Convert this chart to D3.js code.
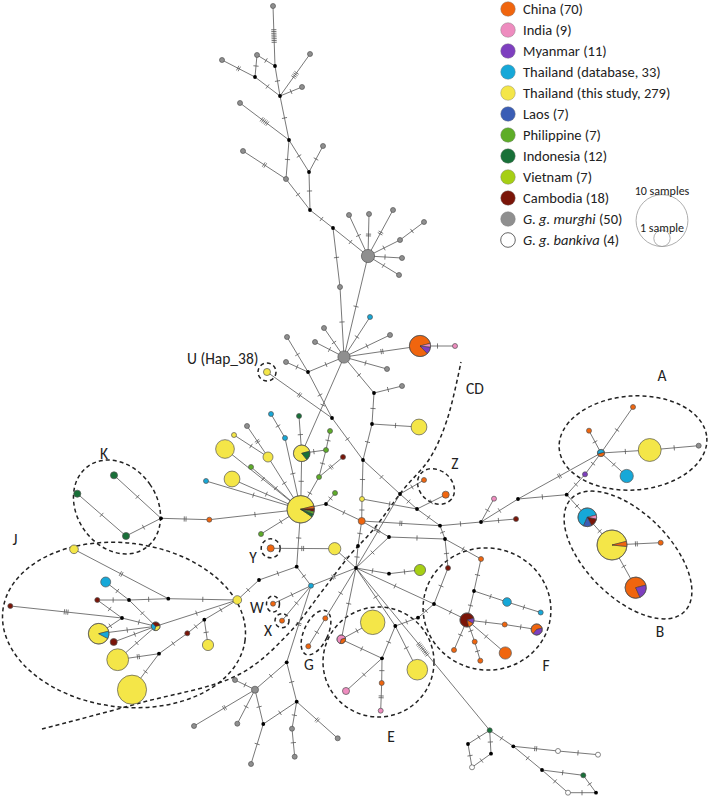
<!DOCTYPE html>
<html><head><meta charset="utf-8">
<script src="https://cdn.jsdelivr.net/npm/d3@7"></script>
<style>body{margin:0;background:#fff}svg{display:block}</style>
</head><body><svg id="c" width="708" height="797"></svg>
<script>
// ---------------- DATA ----------------
const countries = ["CN","IN","MM","TD","TS","LA","PH","ID","VN","KH","GM","GB"];
const countryLabels = ["China (70)","India (9)","Myanmar (11)","Thailand (database, 33)","Thailand (this study, 279)","Laos (7)","Philippine (7)","Indonesia (12)","Vietnam (7)","Cambodia (18)","G. g. murghi (50)","G. g. bankiva (4)"];
const countryColors = ["#F0650E","#EE8CBF","#7E3FBF","#16A8D8","#F4E648","#3A5DB5","#5EAD28","#187038","#A6CF14","#7A1508","#8F8F8F","#FFFFFF"];

// haplotype nodes: [id, layoutX, layoutY, sample counts by country] ({} = median vector)
const nodes = [
["g1",273,6,{GM:1}],["b1",275,66,{}],["g2",257,55,{GM:1}],["b2",255,77,{}],["g5",222,60,{GM:1}],
["g3",310,54,{GM:1}],["g4",302,87,{GM:1}],["b3",280,96,{}],["b4",289,140,{}],["g6",240,103,{GM:1}],
["g7",323,146,{GM:1}],["b5",309,172,{}],["g8",243,151,{GM:1}],["g9",286,179,{GM:1}],["b6",310,210,{}],
["b7",333,228,{}],["G0",368,256,{GM:7}],["g10",349,215,{GM:1}],["g11",369,214,{GM:1}],["g12",393,210,{GM:1}],
["g13",424,222,{GM:1}],["g14",400,240,{GM:1}],["g15",402,258,{GM:1}],["g16",399,275,{GM:1}],["g17",340,287,{GM:1}],
["G1",344,357,{GM:6}],["c1",370,317,{TD:1}],["g18",324,328,{GM:1}],["g19",315,342,{GM:1}],["g20",390,335,{GM:1}],
["g21",387,369,{GM:1}],["pC",420,346,{CN:15,MM:2,IN:1}],["pk1",455,346,{IN:1}],["b8",308,372,{}],
["g22",287,337,{GM:1}],["g23",286,362,{GM:1}],["b9",374,393,{}],["g24",402,386,{GM:1}],["b10",372,424,{}],
["y1",419,427,{TS:10}],["b11",363,460,{}],["U",267,372,{TS:2}],["b12",332,418,{}],
["ys1",234,435,{TS:1}],["gy",247,426,{GM:1}],["yL1",225,449,{TS:14}],["y2",268,457,{TS:4}],["cy1",271,414,{TD:1}],
["cy2",285,438,{TD:1}],["dg1",299,416,{ID:1}],["P2",301.7,453.3,{TS:9,ID:2}],["ph1",330,431,{PH:1}],["ph2",326,450,{PH:1}],
["kh1",343,457,{KH:1}],["ph3",319,477,{PH:1}],["ph4",335,493,{PH:1}],["ph5",251,467,{PH:1}],["cy3",206,481,{TD:1}],
["yL2",232,479,{TS:10}],["P1",300.7,509.3,{TS:26,CN:1,KH:1,PH:1,ID:1}],["b13",326,504,{}],["ys2",362,499,{TS:1}],
["or1",361.7,521,{CN:2}],["b14",358,546,{}],["H",356,568,{}],["ym",334.7,548.7,{TS:6}],["Yo",270.7,548.3,{CN:2}],
["ph6",261,534,{PH:1}],["b15",296.7,566.7,{}],["b16",259,580,{}],["cy4",311,585.7,{TD:1}],["Wo",273,603.7,{CN:1}],
["Xo",282,620.7,{CN:1}],["b17",389,537,{}],["b18",389,573.7,{}],["VN",420,570,{VN:5}],["b19",400,494,{}],
["b20",417,509,{}],["Z1",424,480,{CN:1}],["Z2",445.7,494.7,{CN:2}],["b21",440,525.7,{}],["b22",481,522,{}],
["pk2",494,498.7,{IN:1}],["b23",518,499,{}],["kh2",516,519,{KH:1}],["b24",445,539,{}],["or2",481,559,{CN:1}],
["kh3",448,568,{KH:1}],["b25",474,591,{}],["b26",434,604,{}],["cy5",507,602,{TD:3}],["cy6",540.7,612.5,{TD:1}],
["PF",467,620,{KH:6,MM:1,CN:1}],["or3",504.7,624.5,{CN:1}],["pF2",536.7,629.5,{CN:3,MM:2}],["b27",418,617.7,{}],
["or4",454,650,{CN:1}],["or5",474.7,641.7,{CN:1}],["or6",480.3,660.7,{CN:1}],["or7",505.3,653,{CN:6}],
["b28",566.7,494.7,{}],["pA",601,453,{CN:1,TD:1}],["oA1",633,407,{CN:1}],["oA2",589,430.7,{CN:1}],["yA",649.7,450,{TS:21}],
["gA",698.7,445.7,{GM:1}],["cA",626.7,476,{TD:7}],["mA",585,474.3,{MM:1}],["pB1",587.3,517.3,{TD:9,IN:1,KH:2,LA:2}],
["yB",612,545,{TS:34,CN:2}],["oB",660.7,542.7,{CN:1}],["pB2",635.7,587.7,{CN:14,MM:4}],
["yE1",372.7,622.3,{TS:24}],["pE",341.3,639.3,{IN:2,CN:1}],["b29",395.3,626,{}],["yE2",417.3,669.7,{TS:17}],
["b30",382,658.3,{}],["pk3",346,691,{IN:2}],["or8",381.7,683,{CN:1}],["pk4",380.7,710.7,{IN:1}],
["G1o",325.3,618.3,{CN:1}],["G2o",308.3,646.3,{CN:1}],
["b31",286.7,662.3,{}],["gL1",255,689.7,{GM:2}],["gL2",235,680,{GM:1}],["gL3",237.3,723.7,{GM:1}],["gL4",194,726,{GM:1}],
["b32",263.3,724,{}],["gL5",251,764,{GM:1}],["b33",296.7,701.7,{}],["gL6",292,728.7,{GM:1}],["gL7",294.7,756.7,{GM:1}],["gL8",337.7,738.3,{GM:1}],
["dgB1",489.7,730.3,{ID:1}],["b34",468,744,{}],["wb1",472,767.3,{GB:1}],["b35",491,753.7,{}],["b36",513.3,746.3,{}],
["wb2",558,751,{GB:1}],["wb3",598,754.7,{GB:1}],["b37",542,770,{}],["dgB2",583.3,775.3,{ID:1}],["b38",596,792.7,{}],["wb4",568,792.7,{GB:1}],
["yJ1",74,549.3,{TS:3}],["cJ",105.7,582,{TD:4}],["khJ1",97.3,600,{KH:1}],["bJ1",129,600,{}],["bJ2",168.3,598.7,{}],
["yJ2",237.3,600,{TS:3}],["khJ2",10.3,606,{KH:1}],["bJ3",122,618,{}],["pJ1",155.7,626.3,{TS:1,TD:1,KH:1}],
["pJ2",98.7,633.7,{TS:15,TD:2}],["khJ3",113.7,642,{KH:2}],["khJ4",187.3,633.3,{KH:1}],["bJ4",204.3,619.7,{}],
["yJ3",208,645,{TS:5}],["yJ4",117.7,659.7,{TS:19}],["bJ5",159,653.7,{}],["yJ5",132,689.7,{TS:34}],
["dgK1",114,475.3,{ID:2}],["dgK2",77.3,493.7,{ID:2}],["dgK3",126,536,{ID:2}],["bK",161,518.3,{}],["orK",209.3,519.7,{CN:1}]
];

// links: [from, to, mutational steps]
const links = [
["g1","b1",8],["b1","g2",1],["g2","b2",1],["b2","g5",2],["b2","b3",1],["b1","b3",1],["b3","g3",4],["b3","g4",1],["b3","b4",1],["b4","g6",5],["b4","b5",1],["b5","g7",1],["b4","g9",1],["g8","g9",2],["b5","b6",1],["g9","b6",1],["b6","b7",1],["b7","G0",1],["b7","g17",1],
["G0","g10",1],["G0","g11",2],["G0","g12",2],["G0","g14",1],["g14","g13",1],["G0","g15",1],["G0","g16",1],["G0","G1",1],["g17","G1",1],
["G1","c1",1],["G1","g18",1],["G1","g19",1],["G1","g20",1],["G1","g21",1],["G1","pC",2],["pC","pk1",1],["G1","b8",1],["b8","g22",1],["b8","g23",1],["G1","b9",1],["b9","g24",1],["b9","b10",1],["b10","y1",1],["b10","b11",1],["G1","P2",1],["b8","b12",1],["U","b12",2],["b12","b11",1],["b11","ys2",1],["b11","b19",1],["ys2","or1",1],["or1","b14",1],["b14","H",1],
["ys1","y2",1],["gy","y2",2],["y2","P1",1],["yL1","P1",1],["yL2","P1",1],["cy3","P1",1],["ph5","P1",1],["cy1","cy2",1],["cy2","P1",1],["dg1","P2",1],["P2","P1",1],["P2","ph2",1],["ph2","ph1",1],["ph2","ph3",1],["ph3","kh1",2],["ph3","P1",1],["ph4","b13",1],["P1","b13",1],["b13","or1",1],["or1","b17",1],["ph6","P1",1],
["P1","b15",1],["b15","b16",1],["b16","yJ2",1],["b15","cy4",1],["cy4","H",2],["cy4","Wo",1],["cy4","Xo",1],["cy4","b31",2],["Yo","ym",2],["ym","H",1],
["H","b17",1],["b17","b24",1],["H","b18",1],["b18","VN",1],["H","b19",2],["b19","Z1",1],["b19","b20",1],["b20","Z2",1],["ys2","b20",1],["b20","b21",1],["or1","b21",2],["b21","b22",1],["b21","b24",1],["b22","pk2",1],["b22","kh2",1],["b22","b23",1],
["b24","or2",1],["b24","kh3",1],["kh3","b26",1],["or2","b25",1],["b25","PF",1],["b25","cy5",1],["cy5","cy6",1],["H","b26",1],["b26","PF",1],["b26","b27",1],["PF","or3",1],["or3","pF2",1],["PF","or4",1],["PF","or5",1],["or5","or6",1],["PF","or7",1],
["b23","pA",2],["b23","b28",1],["b28","mA",1],["mA","pA",1],["pA","oA1",1],["pA","oA2",1],["pA","yA",1],["yA","gA",1],["pA","cA",1],["b28","pB1",1],["pB1","yB",1],["yB","oB",2],["yB","pB2",1],
["H","pE",1],["yE1","pE",1],["pE","b30",1],["b30","pk3",1],["b30","or8",1],["or8","pk4",2],["b30","b29",1],["b29","yE2",1],["b29","b27",1],["H","b29",1],["H","G1o",1],["G1o","G2o",1],
["b31","gL1",1],["gL1","gL2",1],["gL1","gL3",1],["gL1","gL4",2],["gL1","b32",1],["b31","b33",1],["b32","gL5",1],["b32","b33",1],["b33","gL6",1],["gL6","gL7",1],["b33","gL8",2],
["H","dgB1",9],["dgB1","b34",1],["b34","wb1",1],["wb1","b35",1],["b35","dgB1",1],["dgB1","b36",1],["b36","wb2",2],["wb2","wb3",1],["b36","b37",1],["b37","dgB2",1],["dgB2","b38",1],["b38","wb4",1],["wb4","b37",1],
["yJ1","bJ2",2],["cJ","bJ1",1],["bJ1","pJ1",1],["khJ1","bJ1",1],["bJ1","bJ2",1],["bJ2","yJ2",1],["khJ2","bJ3",3],["khJ1","bJ3",1],["bJ3","pJ2",1],["bJ3","pJ1",1],["pJ1","yJ2",1],["pJ1","khJ3",1],["pJ1","pJ2",1],["pJ1","yJ4",1],["yJ4","bJ5",2],["bJ5","yJ5",1],["bJ5","khJ4",1],["khJ4","bJ4",1],["bJ4","yJ2",1],["bJ4","yJ3",1],
["bK","dgK1",1],["dgK2","dgK3",1],["dgK3","bK",1],["bK","orK",2],["orK","P1",1]
];

// haplogroup outlines: [cx, cy, rx, ry, rotation] in layout units
const groupOutlines = [
[267,372,9,9,0],[270.7,548.3,9.5,9.5,0],[273,604,6.5,8,0],[282,620.7,7,7,0],
[316,632.6,12,24,25],[378.5,662,55.5,55,0],[436,486.5,20,16,40],[117,507,40,50,-35],
[633,443,74,47,-4],[628,555,80,42,45],[487,609,64,61,10],[124,625,122,82,7]
];
const groupLabels = [
["U (Hap_38)",187,358,"start"],["CD",466,388,"start"],["A",662,375,"middle"],["K",104,453,"middle"],
["Z",455,463,"middle"],["J",15,539,"middle"],["Y",253,557,"middle"],["W",257,607,"middle"],
["X",268,630,"middle"],["G",309,664,"middle"],["E",391,736,"middle"],["F",546,665,"middle"],["B",660,631,"middle"]
];
// CD boundary (layout units)
const cdLine = [[42,729],[140,703],[240,674],[290,632],[323,590],[350,555],[373,530],[403,490],[430,458],[447,420],[461,362]];
const sizeLegend = [10,1];

// ---------------- DRAW ----------------
const svg = d3.select("#c");
const W = 708, Hh = 797;
const x = d3.scaleLinear().domain([0,708]).range([0,W]);
const y = d3.scaleLinear().domain([0,797]).range([0,Hh]);
const rScale = d3.scaleSqrt().domain([0,1]).range([0,2.5]);
const color = d3.scaleOrdinal().domain(countries).range(countryColors);
const FONT = "Carlito, Lato, 'Open Sans', sans-serif";

const byId = new Map(nodes.map(n=>[n[0],{id:n[0],x:n[1],y:n[2],c:n[3]}]));
byId.forEach(n=>{ n.total = d3.sum(Object.values(n.c)); });

// outlines
const gOut = svg.append("g");
groupOutlines.forEach(o=>{
  gOut.append("ellipse")
    .attr("transform",`translate(${x(o[0])},${y(o[1])}) rotate(${o[4]})`)
    .attr("rx",o[2]).attr("ry",o[3])
    .attr("fill","none").attr("stroke","#222").attr("stroke-width",1.5).attr("stroke-dasharray","4,3");
});
svg.append("path").datum(cdLine)
  .attr("d",d3.line().x(d=>x(d[0])).y(d=>y(d[1])).curve(d3.curveCatmullRom))
  .attr("fill","none").attr("stroke","#222").attr("stroke-width",1.5).attr("stroke-dasharray","4,3");

// links
const gL = svg.append("g").attr("stroke","#555").attr("stroke-width",0.8);
links.forEach(l=>{
  const a = byId.get(l[0]), b = byId.get(l[1]);
  const x1=x(a.x), y1=y(a.y), x2=x(b.x), y2=y(b.y);
  gL.append("line").attr("x1",x1).attr("y1",y1).attr("x2",x2).attr("y2",y2);
  const dx=x2-x1, dy=y2-y1, len=Math.hypot(dx,dy), ux=dx/len, uy=dy/len, px=-uy, py=ux;
  const mx=(x1+x2)/2, my=(y1+y2)/2, sp=1.8, hl=2.6;
  for(let i=0;i<l[2];i++){
    const off=(i-(l[2]-1)/2)*sp;
    const cx=mx+ux*off, cy=my+uy*off;
    gL.append("line").attr("x1",cx+px*hl).attr("y1",cy+py*hl).attr("x2",cx-px*hl).attr("y2",cy-py*hl);
  }
});

// nodes
const pie = d3.pie().value(d=>d[1]).sort((a,b)=>a[1]-b[1])
  .startAngle(Math.PI/2-0.25).endAngle(Math.PI/2-0.25+2*Math.PI);
const gN = svg.append("g");
byId.forEach(n=>{
  const cx=x(n.x), cy=y(n.y);
  if(n.total===0){
    gN.append("circle").attr("cx",cx).attr("cy",cy).attr("r",1.9).attr("fill","#000");
    return;
  }
  const r = rScale(n.total);
  const entries = Object.entries(n.c);
  if(entries.length===1){
    gN.append("circle").attr("cx",cx).attr("cy",cy).attr("r",r)
      .attr("fill",color(entries[0][0])).attr("stroke","#555").attr("stroke-width",0.7);
  } else {
    const g = gN.append("g").attr("transform",`translate(${cx},${cy})`);
    const arc = d3.arc().innerRadius(0).outerRadius(r);
    g.selectAll("path").data(pie(entries)).join("path")
      .attr("d",arc).attr("fill",d=>color(d.data[0])).attr("stroke","#333").attr("stroke-width",0.5);
    g.append("circle").attr("r",r).attr("fill","none").attr("stroke","#555").attr("stroke-width",0.7);
  }
});

// labels
groupLabels.forEach(l=>{
  svg.append("text").attr("x",x(l[1])).attr("y",y(l[2])).attr("text-anchor",l[3])
    .attr("dominant-baseline","central").attr("font-family",FONT).attr("font-size",15.5).attr("fill","#222").text(l[0]);
});

// legend
const lg = svg.append("g");
const rowY = d3.scaleLinear().domain([0,countries.length-1]).range([9,240]);
countries.forEach((c,i)=>{
  lg.append("circle").attr("cx",508).attr("cy",rowY(i)).attr("r",7.3)
    .attr("fill",color(c)).attr("stroke",c==="GB"?"#555":"#777").attr("stroke-width",c==="GB"?0.9:0.4);
  const t = lg.append("text").attr("x",523).attr("y",rowY(i)).attr("dominant-baseline","central")
    .attr("font-family",FONT).attr("font-size",14.5).attr("fill","#222");
  const lab = countryLabels[i];
  if(lab.startsWith("G. g.")){
    const k = lab.indexOf(" (");
    t.append("tspan").attr("font-style","italic").text(lab.slice(0,k));
    t.append("tspan").text(lab.slice(k));
  } else t.text(lab);
});
// size legend
const sizeR = d3.scaleSqrt().domain([0,1]).range([0,8.2]);
sizeLegend.forEach(s=>{
  const r = sizeR(s);
  lg.append("circle").attr("cx",662).attr("cy",246.5-r).attr("r",r).attr("fill","none").attr("stroke","#999").attr("stroke-width",0.8);
  lg.append("text").attr("x",662).attr("y",s===10?191:228).attr("text-anchor","middle").attr("dominant-baseline","central")
    .attr("font-family",FONT).attr("font-size",12).attr("fill","#222").text(s===10?"10 samples":"1 sample");
});
</script></body></html>
